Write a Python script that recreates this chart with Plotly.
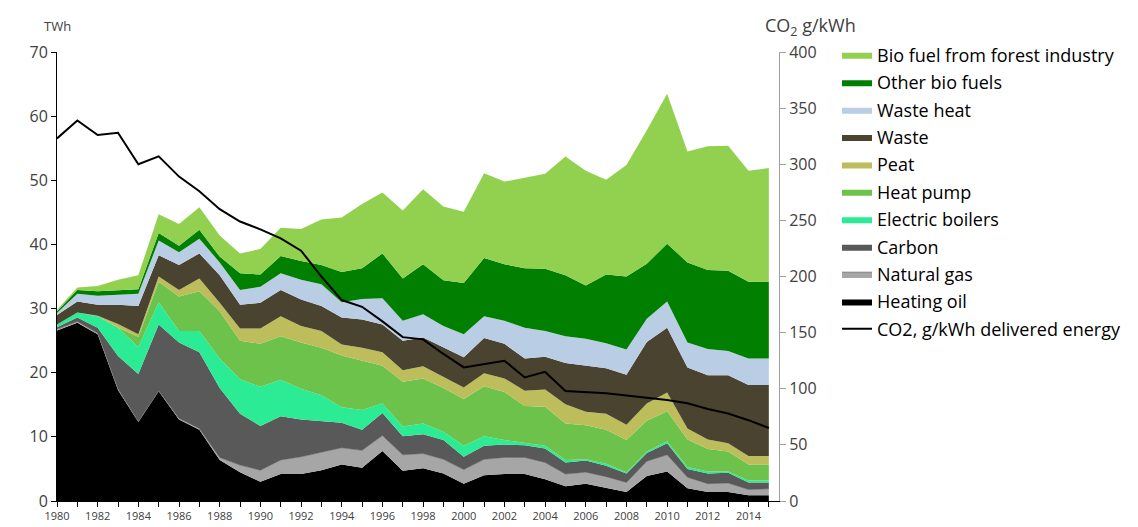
import plotly.graph_objects as go

years = list(range(1980, 2016))

heating_oil = [26.6, 27.8, 26.0, 17.3, 12.3, 17.1, 12.7, 11.1, 6.4, 4.5, 3.0, 4.2, 4.2, 4.8, 5.7, 5.2, 7.8, 4.7,
               5.1, 4.3, 2.7, 4.0, 4.2, 4.2, 3.4, 2.3, 2.7, 2.0, 1.4, 3.9, 4.6, 2.0, 1.4, 1.4, 0.9, 0.9]
natural_gas = [0.2, 0.2, 0.2, 0.2, 0.1, 0.1, 0.2, 0.2, 0.4, 1.1, 1.8, 2.2, 2.7, 2.8, 2.6, 2.7, 2.4, 2.5,
               2.3, 2.2, 2.2, 2.5, 2.6, 2.6, 2.6, 1.9, 1.8, 1.8, 1.5, 2.3, 2.6, 1.7, 1.3, 1.4, 0.9, 1.0]
carbon = [0.3, 0.6, 0.8, 5.1, 7.4, 10.3, 11.8, 11.9, 10.8, 8.0, 6.9, 6.8, 5.8, 4.9, 3.9, 3.2, 3.5, 2.9,
          3.0, 3.0, 2.0, 2.1, 2.0, 1.9, 2.2, 1.8, 1.8, 1.7, 1.4, 1.3, 1.8, 1.3, 1.6, 1.6, 1.1, 1.0]
electric_boilers = [0.4, 0.8, 1.8, 4.4, 4.2, 3.5, 1.8, 3.3, 4.6, 5.4, 6.1, 5.7, 4.8, 4.0, 2.4, 3.1, 1.5, 1.5,
                    1.7, 1.3, 1.7, 1.5, 0.7, 0.4, 0.4, 0.4, 0.2, 0.3, 0.2, 0.2, 0.3, 0.3, 0.3, 0.2, 0.3, 0.3]
heat_pump = [0.0, 0.0, 0.0, 0.0, 1.6, 3.2, 5.4, 6.2, 7.4, 6.0, 6.7, 6.8, 7.2, 7.4, 8.1, 7.7, 5.9, 7.0,
             7.0, 6.8, 7.3, 7.8, 7.5, 5.7, 6.1, 5.7, 5.3, 5.3, 5.0, 4.8, 4.7, 4.3, 3.5, 3.1, 2.5, 2.5]
peat = [0.0, 0.0, 0.1, 0.6, 0.4, 0.8, 1.0, 2.0, 1.3, 1.9, 2.4, 3.1, 2.6, 2.6, 1.7, 2.0, 2.1, 1.8,
        1.9, 1.8, 1.8, 2.0, 2.1, 2.4, 2.7, 3.0, 2.1, 2.5, 2.4, 2.7, 2.9, 1.7, 1.5, 1.3, 1.3, 1.3]
waste = [1.5, 1.7, 1.7, 3.0, 4.4, 3.3, 3.9, 3.9, 4.3, 3.7, 4.0, 4.1, 4.1, 3.9, 4.2, 4.4, 4.3, 4.6,
         4.5, 4.5, 4.7, 5.5, 5.4, 5.0, 5.1, 6.4, 7.2, 7.1, 7.8, 9.6, 10.1, 9.5, 10.0, 10.6, 11.1, 11.1]
waste_heat = [0.3, 1.2, 1.4, 1.6, 1.9, 2.3, 2.0, 2.3, 2.0, 2.3, 2.5, 2.6, 3.1, 3.4, 2.4, 3.2, 4.1, 3.1,
              3.6, 3.4, 3.6, 3.4, 3.6, 4.8, 4.0, 4.2, 4.2, 3.9, 3.9, 3.6, 4.1, 3.9, 4.1, 3.8, 4.1, 4.1]
other_bio = [0.3, 0.6, 0.7, 0.7, 0.7, 1.2, 1.0, 1.4, 0.9, 2.6, 1.9, 2.7, 2.9, 3.0, 4.7, 4.8, 7.0, 6.6,
             7.8, 7.1, 8.0, 9.1, 8.8, 9.3, 9.7, 9.5, 8.3, 10.7, 11.4, 8.6, 9.0, 12.5, 12.3, 12.5, 12.0, 12.0]
bio_forest = [0.2, 0.4, 0.8, 1.6, 2.2, 2.9, 3.4, 3.5, 3.3, 3.1, 4.0, 4.4, 5.0, 7.1, 8.5, 10.0, 9.5, 10.6,
              11.7, 11.5, 11.1, 13.2, 12.9, 14.1, 14.8, 18.5, 17.9, 14.8, 17.4, 20.8, 23.4, 17.3, 19.3, 19.5, 17.3, 17.7]
co2 = [323, 339, 326, 328, 300, 307, 289, 276, 260, 249, 242, 234, 223, 200, 179, 173, 160, 146,
       144, 131, 119, 122, 125, 110, 115, 98, 97, 96, 94, 92, 90, 87, 82, 78, 72, 65]

series = [
    ("Heating oil", heating_oil, "#000000", "#000000"),
    ("Natural gas", natural_gas, "#A6A6A6", "#595959"),
    ("Carbon", carbon, "#595959", "#595959"),
    ("Electric boilers", electric_boilers, "#2BEB95", "#2BEB95"),
    ("Heat pump", heat_pump, "#6CC24A", "#6CC24A"),
    ("Peat", peat, "#BDBD5C", "#BDBD5C"),
    ("Waste", waste, "#4A4330", "#4A4330"),
    ("Waste heat", waste_heat, "#B9CDE5", "#B9CDE5"),
    ("Other bio fuels", other_bio, "#007F00", "#007F00"),
    ("Bio fuel from forest industry", bio_forest, "#92D050", "#92D050"),
]

fig = go.Figure()
n = len(series)
for i, (name, vals, color, lc) in enumerate(series):
    fig.add_trace(go.Scatter(
        x=years, y=vals, name=name, stackgroup="one", mode="lines",
        line=dict(width=0.5 if name == "Natural gas" else 0, color=lc),
        fillcolor=color, legendrank=n - i, legendgroup=name,
        hoverinfo="x+y+name",
    ))

fig.add_trace(go.Scatter(
    x=years, y=co2, name="CO2, g/kWh delivered energy", mode="lines",
    line=dict(color="#000000", width=2), yaxis="y2", legendrank=20, legendgroup="co2",
))

plot_w = 1138 - 49 - 367
plot_h = 527 - 44 - 28
title_y = (499 - 18) / plot_h

fig.update_layout(
    width=1138, height=527,
    margin=dict(l=49, r=367, t=44, b=28),
    paper_bgcolor="white", plot_bgcolor="white",
    font=dict(family="Open Sans, Liberation Sans, sans-serif", color="#404040"),
    showlegend=True,
    legend=dict(
        xref="paper", yref="paper", x=(829 - 49) / plot_w, y=(499 - 186) / plot_h,
        xanchor="left", yanchor="middle",
        font=dict(size=18, color="#000000", family="Open Sans, sans-serif"),
        tracegroupgap=1, bgcolor="rgba(0,0,0,0)",
    ),
    xaxis=dict(
        range=[1980, 2015.5], tickmode="array",
        tickvals=list(range(1980, 2015, 2)), ticktext=[str(y) for y in range(1980, 2015, 2)],
        ticks="outside", ticklen=5, tickcolor="#000000",
        showline=True, linecolor="#000000", linewidth=1,
        showgrid=False, zeroline=False,
        tickfont=dict(size=11, color="#404040"),
        minor=dict(tickvals=list(range(1980, 2016)), ticks="outside", ticklen=5, tickcolor="#000000"),
    ),
    yaxis=dict(
        range=[0, 70], tickvals=[0, 10, 20, 30, 40, 50, 60, 70],
        ticks="outside", ticklen=5, tickcolor="#000000",
        showline=True, linecolor="#000000", linewidth=1,
        showgrid=False, zeroline=False,
        tickfont=dict(size=16, color="#404040"),
    ),
    yaxis2=dict(
        range=[0, 400], tickvals=[0, 50, 100, 150, 200, 250, 300, 350, 400],
        overlaying="y", side="right",
        ticks="outside", ticklen=6, tickcolor="#A0A0A0",
        showline=True, linecolor="#A0A0A0", linewidth=1,
        showgrid=False, zeroline=False,
        tickfont=dict(size=16, color="#404040"),
    ),
    annotations=[
        dict(text="TWh", xref="paper", yref="paper", x=0.0, y=title_y,
             xanchor="center", yanchor="middle", showarrow=False,
             font=dict(size=13, color="#404040")),
        dict(text="CO<sub>2</sub> g/kWh", xref="paper", yref="paper", x=(802 - 49) / plot_w, y=title_y,
             xanchor="center", yanchor="middle", showarrow=False,
             font=dict(size=18, color="#404040")),
    ],
)

fig.write_html("out.html")
